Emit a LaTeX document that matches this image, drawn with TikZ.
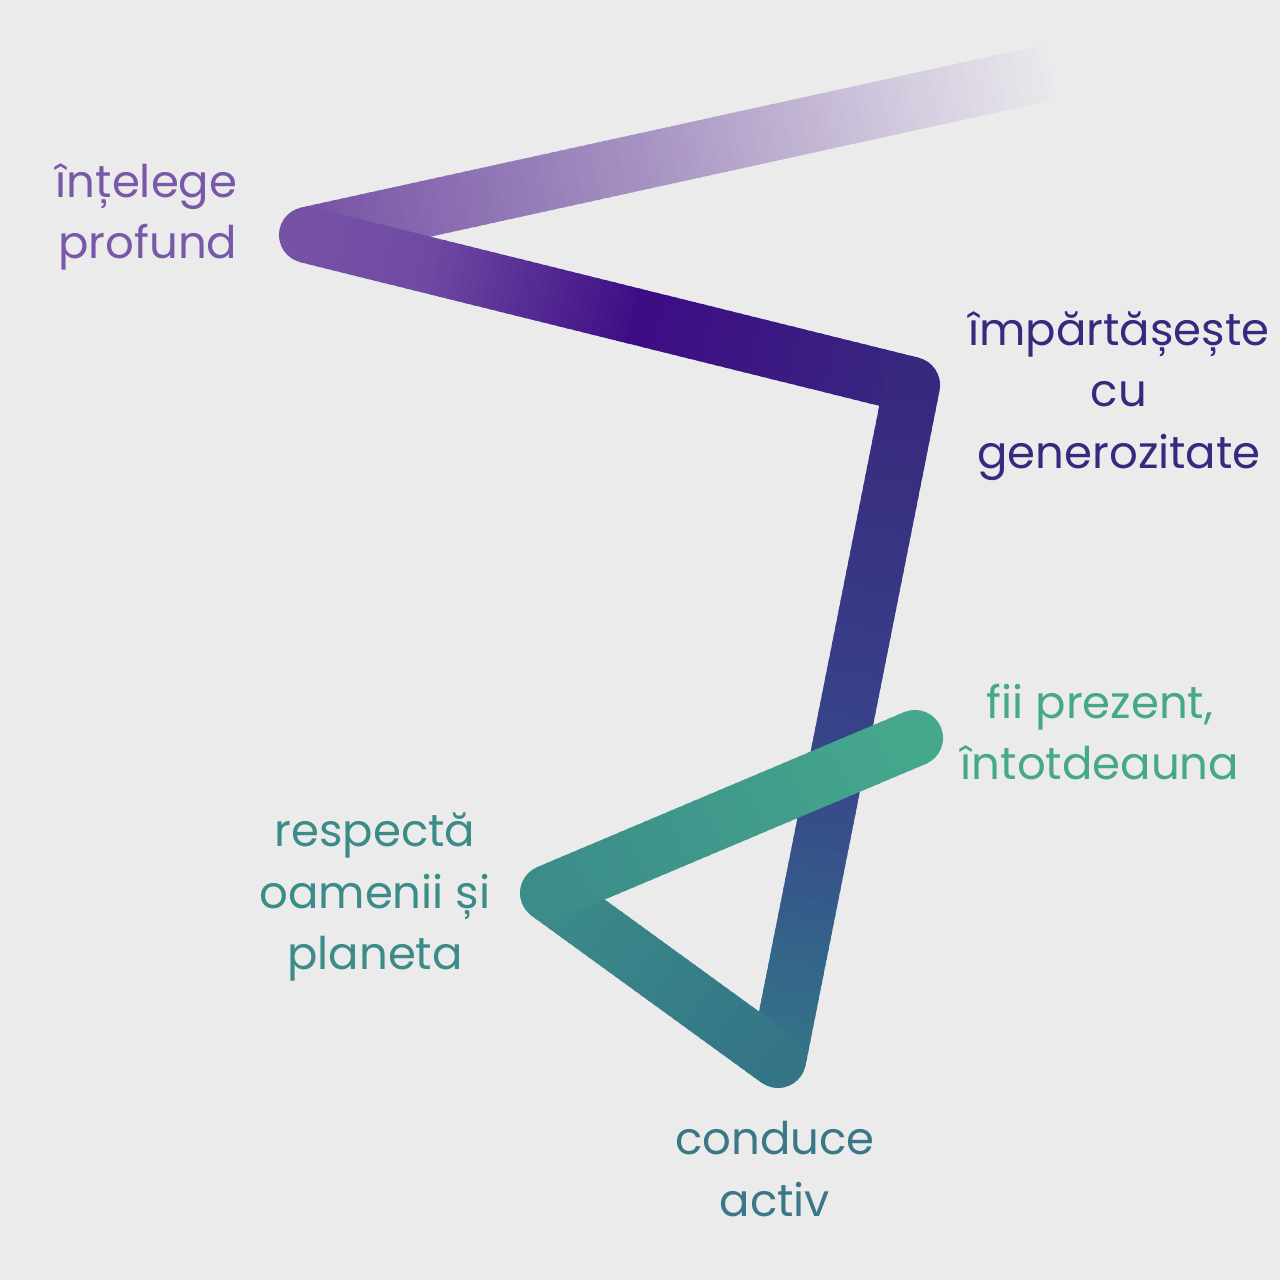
\documentclass[tikz,border=0pt]{standalone}
\usepackage{fontspec}
\setmainfont{Poppins}
\usetikzlibrary{calc}
\definecolor{bg}{RGB}{235,235,235}
\definecolor{cA}{HTML}{EAE9EC}
\definecolor{cB}{HTML}{D3CADF}
\definecolor{cC}{HTML}{A895C3}
\definecolor{cD}{HTML}{7552A5}
\definecolor{cE}{HTML}{6E4AA3}
\definecolor{cF}{HTML}{3D0C84}
\definecolor{cG}{HTML}{3A1E82}
\definecolor{cH}{HTML}{38287E}
\definecolor{cI}{HTML}{383A85}
\definecolor{cJ}{HTML}{37488A}
\definecolor{cK}{HTML}{34658A}
\definecolor{cL}{HTML}{347487}
\definecolor{cM}{HTML}{3B8C8A}
\definecolor{cN}{HTML}{45A88C}
\definecolor{tpurple}{HTML}{7A58A9}
\definecolor{tnavy}{HTML}{352A7E}
\definecolor{tgreen}{HTML}{45A88A}
\definecolor{tteal}{HTML}{3B8B88}
\definecolor{tblue}{HTML}{3A7787}
\newlength\strokew
\setlength\strokew{0.56cm}
% gradient segment: #1 start coord, #2 end coord, #3 start colour, #4 end colour, #5 pieces
\newcommand\gradseg[5]{%
  \foreach \i in {1,...,#5}{%
    \pgfmathsetmacro\ta{(\i-1)/#5}%
    \pgfmathsetmacro\tb{(\i+0.5)/#5}%
    \pgfmathsetmacro\pc{100*(\i-0.5)/#5}%
    \ifnum\i<#5\relax
      \draw[line width=\strokew, line cap=butt, color=#4!\pc!#3] ($(#1)!\ta!(#2)$) -- ($(#1)!\tb!(#2)$);
    \else
      \draw[line width=\strokew, line cap=butt, color=#4!\pc!#3] ($(#1)!\ta!(#2)$) -- ($(#2)!-0.5pt!(#1)$);
    \fi
  }%
}
\tikzset{
  lbl/.style={font=\fontsize{12.8}{17.4}\selectfont, inner sep=0pt, align=center},
}
\begin{document}
\begin{tikzpicture}[x=0.01cm, y=-0.01cm]
\fill[bg] (0,0) rectangle (1280,1280);
\useasboundingbox (0,0) rectangle (1280,1280);
% vertices
\coordinate (P0) at (1050,72);
\coordinate (P1) at (307,235);
\coordinate (P2) at (912,385);
\coordinate (P3) at (778,1060);
\coordinate (P4) at (548,893);
\coordinate (P5) at (915,738);
% intermediate stops
\coordinate (A1) at ($(P0)!0.2!(P1)$);
\coordinate (A2) at ($(P0)!0.53!(P1)$);
\coordinate (B1) at ($(P1)!0.2!(P2)$);
\coordinate (B2) at ($(P1)!0.55!(P2)$);
\coordinate (B3) at ($(P1)!0.85!(P2)$);
\coordinate (C1) at ($(P2)!0.35!(P3)$);
\coordinate (C2) at ($(P2)!0.6!(P3)$);
\coordinate (C3) at ($(P2)!0.85!(P3)$);
% path
\gradseg{P0}{A1}{cA}{cB}{18}
\gradseg{A1}{A2}{cB}{cC}{30}
\gradseg{A2}{P1}{cC}{cD}{40}
\fill[cD] (P1) circle[radius=0.28cm];
\gradseg{P1}{B1}{cD}{cE}{15}
\gradseg{B1}{B2}{cE}{cF}{25}
\gradseg{B2}{B3}{cF}{cG}{20}
\gradseg{B3}{P2}{cG}{cH}{10}
\fill[cH] (P2) circle[radius=0.28cm];
\gradseg{P2}{C1}{cH}{cI}{25}
\gradseg{C1}{C2}{cI}{cJ}{20}
\gradseg{C2}{C3}{cJ}{cK}{20}
\gradseg{C3}{P3}{cK}{cL}{12}
\fill[cL] (P3) circle[radius=0.28cm];
\gradseg{P3}{P4}{cL}{cM}{35}
\fill[cM] (P4) circle[radius=0.28cm];
\gradseg{P4}{P5}{cM}{cN}{45}
\fill[cN] (P5) circle[radius=0.28cm];
% labels
\node[lbl, text=tpurple, align=right, anchor=east] (t1) at (238,217) {înțelege\\profund};
\node[lbl, text=tnavy] (t2) at (1119,396) {împărtășește\\cu\\generozitate};
\node[lbl, text=tgreen] (t3) at (1100,732) {fii prezent,\\întotdeauna};
\node[lbl, text=tteal] (t4) at (375,897) {respectă\\oamenii și\\planeta};
\node[lbl, text=tblue] (t5) at (775,1169) {conduce\\activ};
\end{tikzpicture}
\end{document}
